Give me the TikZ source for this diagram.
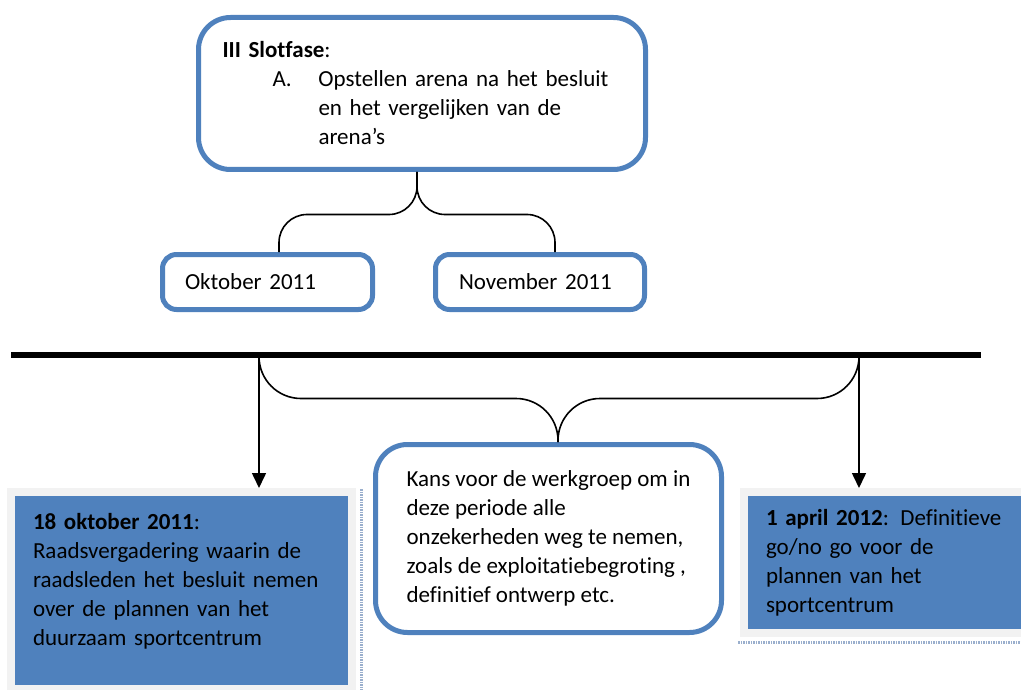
\documentclass[tikz,border=0pt]{standalone}
\usepackage{fontspec}
\setmainfont{Carlito}[Ligatures=NoCommon]
\usetikzlibrary{arrows.meta}

\definecolor{officeblue}{HTML}{4F81BD}
\definecolor{framegray}{HTML}{F2F2F2}
\definecolor{dotblue}{HTML}{9AAFCD}

\tikzstyle{txt}=[font=\fontsize{23}{29}\selectfont, align=left]
\tikzstyle{phase}=[txt, draw=officeblue, line width=5pt, fill=white, rounded corners=32pt]
\tikzstyle{month}=[txt, draw=officeblue, line width=5pt, fill=white, rounded corners=14pt]
\tikzstyle{datebox}=[txt, draw=framegray, line width=8pt, fill=officeblue]
\tikzstyle{brace}=[line width=1.6pt]
\tikzstyle{arrow}=[line width=1.6pt, -{Triangle[width=14pt,length=15pt]}]
\tikzstyle{dotline}=[draw=dotblue, line width=3pt, dash pattern=on 1.5pt off 1pt]

\begin{document}
\begin{tikzpicture}[x=1pt, y=-1pt]
      \useasboundingbox (0,0) rectangle (1021,690);

      % upper part
      \node[phase, text width=399pt, inner xsep=24pt, minimum height=152pt] (slot) at (422,93.5)
        {\textbf{III Slotfase}:\\
         \hspace*{50pt}\makebox[46pt][l]{A.}Opstellen arena na het besluit\\
         \hspace*{96pt}en het vergelijken van de\\
         \hspace*{96pt}arena’s};
      \node[month, text width=165pt, inner xsep=22.5pt, minimum height=55pt] (okt) at (267.5,282) {Oktober 2011};
      \node[month, text width=162pt, inner xsep=23.5pt, minimum height=55pt] (nov) at (540,282) {November 2011};

      \draw[brace, rounded corners=28pt] ([xshift=-5pt]slot.south) -- ++(0,42.5) -| ([xshift=11.5pt]okt.north);
      \draw[brace, rounded corners=28pt] ([xshift=-5pt]slot.south) -- ++(0,42.5) -| ([xshift=15pt]nov.north);

      % timeline
      \coordinate (tl) at (11,355);
      \coordinate (tr) at (981,355);
      \coordinate (t1) at (259,355);
      \coordinate (t2) at (859,355);
      \draw[line width=6pt] (tl) -- (tr);

      % lower part
      \node[phase, minimum width=346pt, minimum height=188pt] (kans) at (548.5,538.5)
        {Kans voor de werkgroep om in\\
         deze periode alle\\
         onzekerheden weg te nemen,\\
         zoals de exploitatiebegroting ,\\
         definitief ontwerp etc.};
      \node[datebox, text width=297pt, inner xsep=22pt, minimum height=197pt] (raad) at (181.5,590.5)
        {\textbf{18 oktober 2011}:\\
         Raadsvergadering waarin de\\
         raadsleden het besluit nemen\\
         over de plannen van het\\
         duurzaam sportcentrum\\[-6pt]\mbox{}};
      \node[datebox, text width=257pt, inner xsep=22pt, minimum height=141pt] (gonogo) at (894.5,562.5)
        {\textbf{1 april 2012}: Definitieve\\
         go/no go voor de\\
         plannen van het\\
         sportcentrum};

      \draw[dotline] ([xshift=5pt, yshift=-1pt]raad.north east) -- ([xshift=5pt]raad.south east);
      \draw[dotline] ([xshift=-2pt, yshift=-5pt]gonogo.south west) -- ([yshift=-5pt]gonogo.south east);

      \draw[brace, rounded corners=42pt] ([xshift=9.5pt]kans.north) -- ++(0,-43.5) -| (t1);
      \draw[brace, rounded corners=42pt] ([xshift=9.5pt]kans.north) -- ++(0,-43.5) -| (t2);

      \draw[arrow] (t1) -- (t1 |- raad.north);
      \draw[arrow] (t2) -- (t2 |- gonogo.north);
    \end{tikzpicture}
\end{document}
